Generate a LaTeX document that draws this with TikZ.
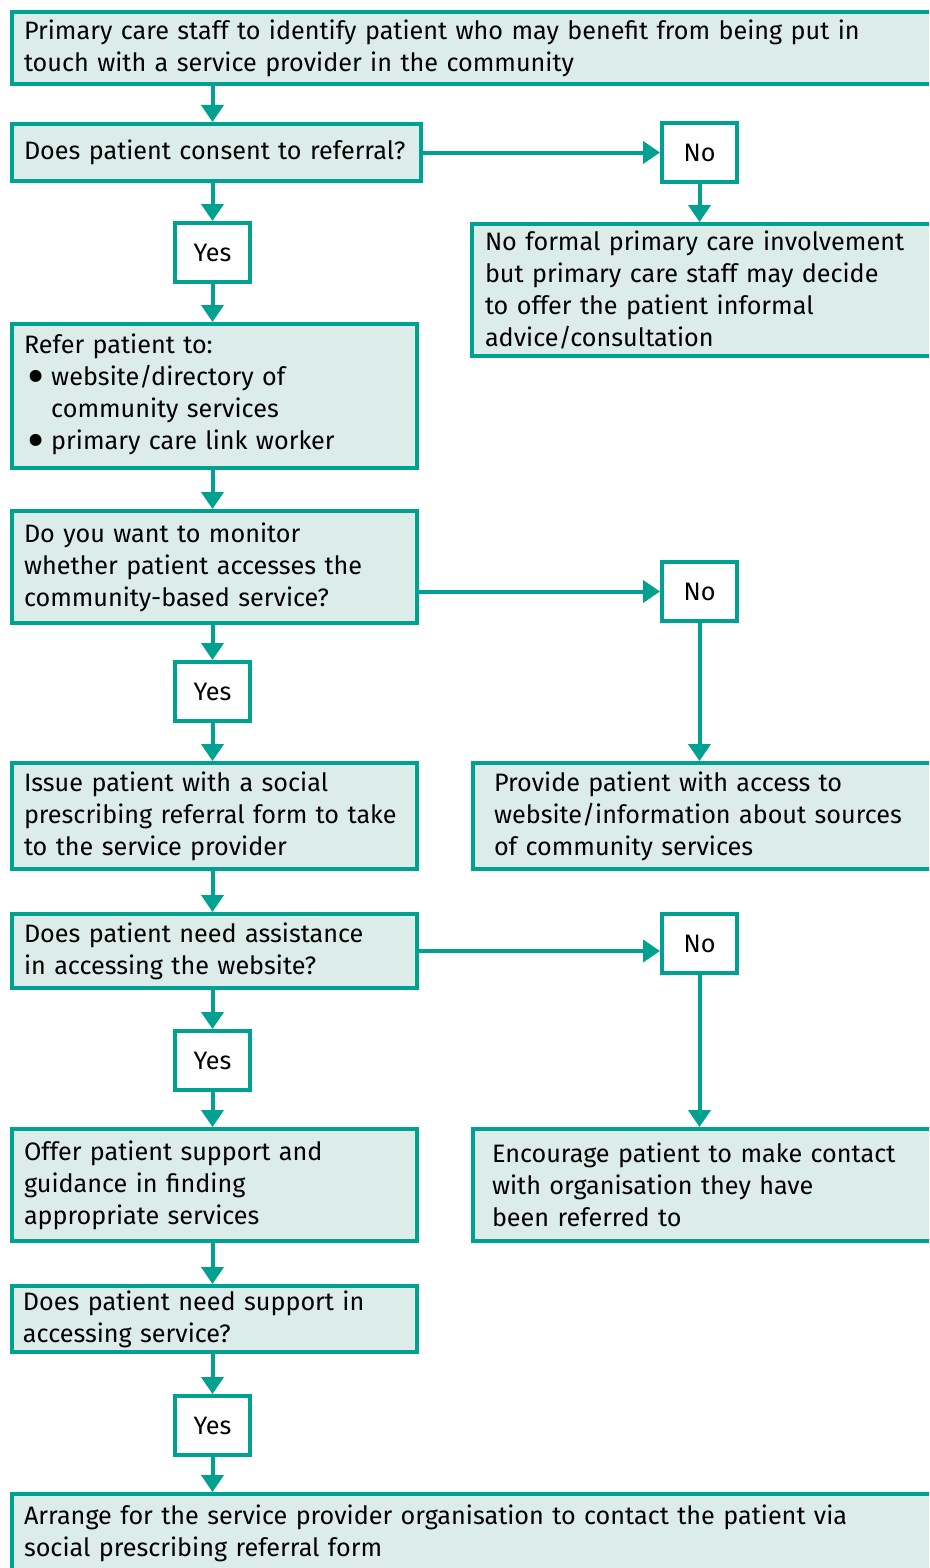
\documentclass[tikz,border=0pt]{standalone}
\usepackage{fontspec}
\setmainfont{Fira Sans}
\usetikzlibrary{arrows.meta}
\definecolor{tealline}{RGB}{0,161,144}
\definecolor{palefill}{RGB}{219,236,233}
\newcommand{\blt}{\makebox[0.14em]{}\makebox[0.94em][l]{\raisebox{-0.36em}{\scalebox{2.1}{\textbullet}}}}
\begin{document}
\begin{tikzpicture}[x=1pt,y=-1pt,
  box/.style={draw=tealline,fill=palefill,line width=4pt,anchor=north west,
    align=left,inner xsep=12pt,inner ysep=0pt,font=\fontsize{25.2}{32}\selectfont},
  yn/.style={draw=tealline,fill=white,line width=4pt,anchor=north west,
    minimum width=75pt,minimum height=59pt,inner sep=0pt,font=\fontsize{25.2}{32}\selectfont},
  go/.style={draw=tealline,line width=4pt,-{Triangle[width=22pt,length=17pt]}}]
\useasboundingbox (0,0) rectangle (929,1568);
\clip (0,0) rectangle (929,1568);
\node [box,text width=904pt,minimum height=72pt] (a) at (10,10)
  {Primary care staff to identify patient who may benefit from being put in\\
   touch with a service provider in the community};
\node [box,text width=385pt,minimum height=57pt] (b) at (10,122)
  {Does patient consent to referral?};
\node [yn] (c) at (660,121) {No};
\node [box,text width=444pt,minimum height=132pt,inner xsep=13pt] (d) at (470,222)
  {No formal primary care involvement\\
   but primary care staff may decide\\
   to offer the patient informal\\
   advice/consultation};
\node [yn] (e) at (173,221) {Yes};
\node [box,text width=381pt,minimum height=144pt] (f) at (10,322)
  {Refer patient to:\\
   \blt website/directory of\\
   \makebox[1.08em]{}community services\\
   \blt primary care link worker};
\node [box,text width=381pt,minimum height=112pt] (g) at (10,509)
  {Do you want to monitor\\
   whether patient accesses the\\
   community-based service?};
\node [yn] (h) at (660,560) {No};
\node [yn] (i) at (173,660) {Yes};
\node [box,text width=381pt,minimum height=106pt] (j) at (10,761)
  {Issue patient with a social\\
   prescribing referral form to take\\
   to the service provider};
\node [box,text width=428pt,minimum height=106pt,inner xsep=21pt] (k) at (471,761)
  {Provide patient with access to\\
   website/information about sources\\
   of community services};
\node [box,text width=381pt,minimum height=74pt] (l) at (10,912)
  {Does patient need assistance\\
   in accessing the website?};
\node [yn] (m) at (660,912) {No};
\node [yn] (n) at (173,1029) {Yes};
\node [box,text width=381pt,minimum height=112pt] (o) at (10,1127)
  {Offer patient support and\\
   guidance in finding\\
   appropriate services};
\node [box,text width=432pt,minimum height=112pt,inner xsep=19pt] (p) at (471,1127)
  {Encourage patient to make contact\\
   with organisation they have\\
   been referred to};
\node [box,text width=383pt,minimum height=66pt,inner xsep=11pt] (q) at (10,1284)
  {Does patient need support in\\
   accessing service?};
\node [yn] (r) at (173,1394) {Yes};
\node [box,text width=904pt,minimum height=78pt] (s) at (10,1492)
  {Arrange for the service provider organisation to contact the patient via\\
   social prescribing referral form};
\draw [go] (a.south -| e) -- (b.north -| e);
\draw [go] (b.south -| e) -- (e.north);
\draw [go] (e.south) -- (f.north -| e);
\draw [go] (b) -- (c);
\draw [go] (c.south) -- (d.north -| c);
\draw [go] (f.south -| e) -- (g.north -| e);
\draw [go] (g.east |- h) -- (h.west);
\draw [go] (g.south -| i) -- (i.north);
\draw [go] (i.south) -- (j.north -| i);
\draw [go] (h.south) -- (k.north -| h);
\draw [go] (j.south -| i) -- (l.north -| i);
\draw [go] (l) -- (l -| m.west);
\draw [go] (l.south -| n) -- (n.north);
\draw [go] (n.south) -- (o.north -| n);
\draw [go] (m.south) -- (p.north -| m);
\draw [go] (o.south -| n) -- (q.north -| n);
\draw [go] (q.south -| r) -- (r.north);
\draw [go] (r.south) -- (s.north -| r);
\end{tikzpicture}
\end{document}
